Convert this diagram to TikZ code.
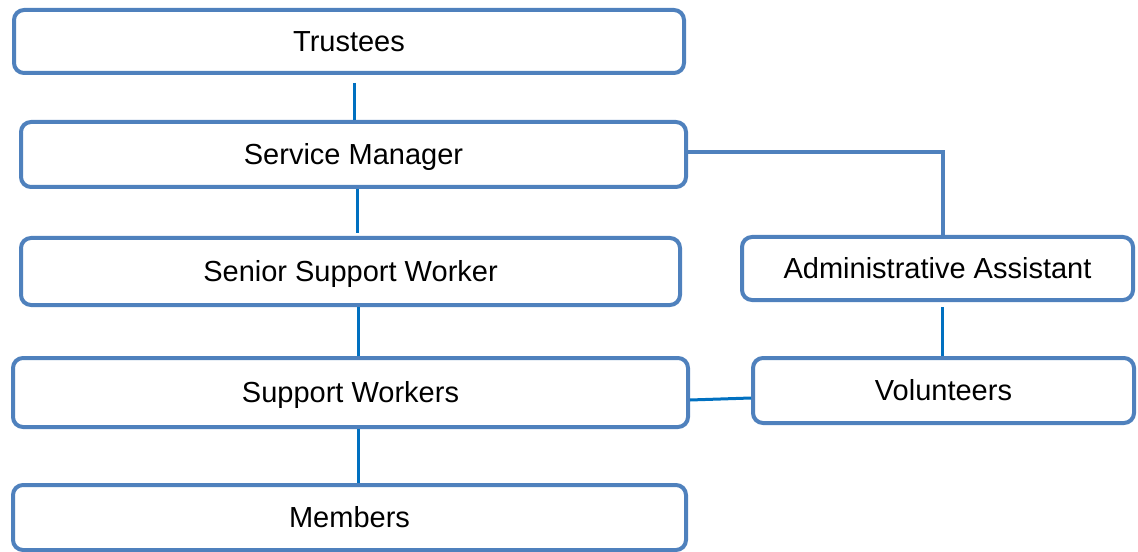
\documentclass[tikz,border=0pt]{standalone}
\usepackage{fontspec}
\setmainfont{Liberation Sans}
\definecolor{boxblue}{HTML}{4F81BD}
\definecolor{linkblue}{HTML}{0070C0}
\begin{document}
\begin{tikzpicture}[x=0.75pt,y=-0.75pt,
  orgbox/.style={draw=boxblue, line width=3pt, rounded corners=7.5pt, fill=white,
    inner sep=0pt, text height=15.6pt, text depth=0pt,
    font=\fontsize{21.75}{26}\selectfont, text=black},
  link/.style={draw=linkblue, line width=2.25pt},
  sidelink/.style={draw=boxblue, line width=2.4pt}]
\useasboundingbox (0,0) rectangle (1138,552);

\node[orgbox, minimum width=670*0.75pt, minimum height=63*0.75pt] (trustees) at (349,41.5) {Trustees};
\node[orgbox, minimum width=665*0.75pt, minimum height=65*0.75pt] (sm) at (353.5,154.5) {Service Manager};
\node[orgbox, minimum width=659*0.75pt, minimum height=67*0.75pt] (ssw) at (350.5,271.5) {Senior Support Worker};
\node[orgbox, minimum width=675*0.75pt, minimum height=69*0.75pt] (sw) at (350.5,392.5) {Support Workers};
\node[orgbox, minimum width=673*0.75pt, minimum height=65*0.75pt] (mem) at (349.5,517.5) {Members};
\node[orgbox, minimum width=391*0.75pt, minimum height=63*0.75pt] (admin) at (937.5,268.5) {Administrative Assistant};
\node[orgbox, minimum width=381*0.75pt, minimum height=65*0.75pt] (vol) at (943.5,390.5) {Volunteers};

\coordinate (t1) at (354,83);
\coordinate (s2) at (357,233);
\coordinate (x358) at (358,0);
\coordinate (c1) at (943,152);
\coordinate (a1) at (942,307);
\coordinate (y400) at (0,400);
\coordinate (y398) at (0,398);

\draw[link] (t1) -- (t1 |- sm.north);
\draw[link] (sm.south -| s2) -- (s2);
\draw[link] (ssw.south -| x358) -- (sw.north -| x358);
\draw[link] (sw.south -| x358) -- (mem.north -| x358);
\draw[link] (a1) -- (a1 |- vol.north);
\draw[link] (sw.east |- y400) -- (vol.west |- y398);
\draw[sidelink] (sm.east |- c1) -- (c1) -- (c1 |- admin.north);
\end{tikzpicture}
\end{document}
